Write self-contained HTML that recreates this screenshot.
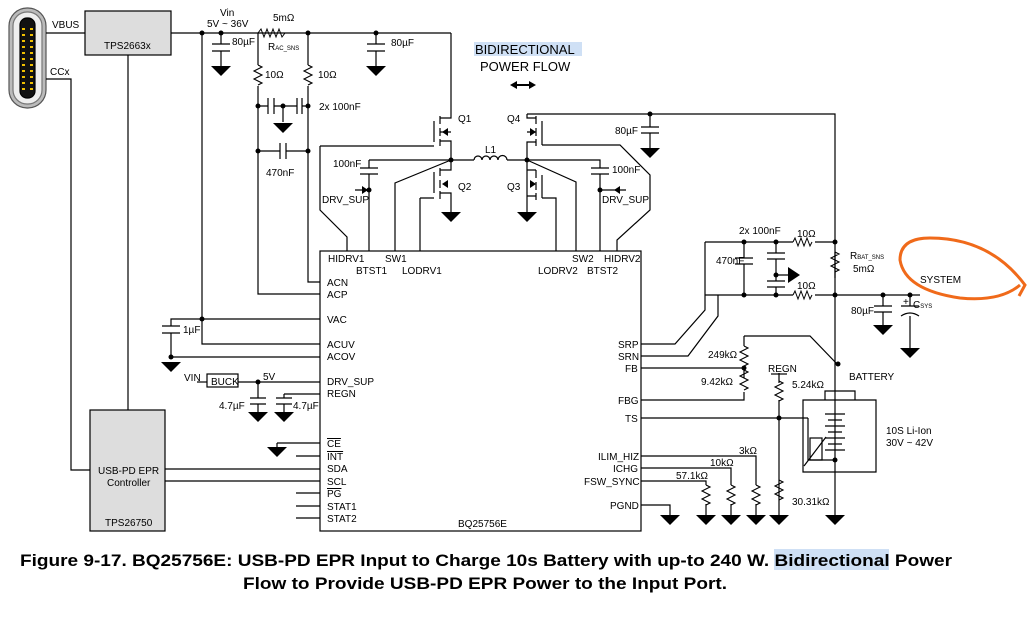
<!DOCTYPE html>
<html><head><meta charset="utf-8"><style>
body{margin:0;background:#fff;}
svg text{font-family:"Liberation Sans",sans-serif;font-size:10px;fill:#000;}
.b{font-weight:bold;font-size:17px;}
</style></head><body>
<svg width="1030" height="619" viewBox="0 0 1030 619" xmlns="http://www.w3.org/2000/svg">
<defs>
<g id="gnd"><path d="M-10,0 L10,0 L0,10 Z" fill="#000"/></g>
<g id="rv"><path d="M0,0 l4,2 l-8,4 l8,4 l-8,4 l8,4 l-4,2" fill="none" stroke="#000"/></g>
</defs>
<g stroke="#000" stroke-width="1.2" fill="none">
<rect x="9" y="8" width="37" height="100" rx="18" fill="#bbb" stroke="#555"/>
<rect x="13" y="12" width="29" height="92" rx="14" fill="#eee" stroke="#777"/>
<rect x="20" y="18" width="15" height="80" rx="7" fill="#111"/>
<path d="M46,33 H85 M171,33 H451 M46,79 H71 V470 H90 M128,55 V410"/>
<rect x="85" y="11" width="86" height="44" fill="#ddd"/>
<rect x="90" y="410" width="75" height="121" fill="#ddd"/>
<path d="M202,33 V344 H320 M202,319 H320 M202,319 H171 V326 M171,333 V357 H320"/>
<path d="M162,326 H180 M162,333 H180"/>
<path d="M221,33 V44 M212,44 H230 M212,51 H230 M221,51 V66"/>
<path d="M258,33 V65 M258,86 V294 H320 M308,33 V65 M308,86 V282 H320"/>
<path d="M258,106 H268 M268,98 V114 M274,98 V114 M274,106 H297 M297,98 V114 M302,98 V114 M302,106 H308 M283,106 V122"/>
<path d="M258,151 H280 M280,143 V159 M286,143 V159 M286,151 H308"/>
<path d="M376,33 V44 M367,44 H385 M367,51 H385 M376,51 V66"/>
<path d="M451,33 V118 H440 M434,121 V142 M440,116 V124 M440,128 V136 M440,139 V146 M440,141 H451 V160 M440,132 H451"/>
<path d="M320,146 H434 M320,146 V210 L347,237 V251"/>
<path d="M369,160 H451 M369,160 V168 M360,168 H378 M360,174 H378 M369,174 V251 M355,190 H369"/>
<path d="M451,160 L395,183 V251 M451,160 V170 H440 M434,172 V193 M440,168 V176 M440,180 V188 M440,191 V199 M440,193 H451 V212 M420,198 H434 M420,198 V251"/>
<path d="M451,160 H474 M507,160 H527"/>
<path d="M474,160 a4,4 0 0 1 8,0 a4,4 0 0 1 8,0 a4,4 0 0 1 8,0 a4,4 0 0 1 9,0"/>
<path d="M527,114 H835 V295 M527,114 V118 H536 M542,121 V145 M536,116 V124 M536,128 V136 M536,139 V146 M536,142 H527 V212 M527,132 H536 M542,145 H620 L650,175 V210 L617,240 V251"/>
<path d="M650,114 V127 M641,127 H659 M641,133 H659 M650,133 V148"/>
<path d="M527,160 H600 V168 M591,168 H609 M591,174 H609 M600,174 V251 M600,190 H626"/>
<path d="M527,160 L576,182 V251 M536,170 V178 M536,182 V190 M536,193 V200 M542,175 V198 M542,198 H556 V251 M527,170 H536 M527,196 H536"/>
<rect x="320" y="251" width="321" height="280" fill="#fff"/>
<path d="M705,242 H793 M815,242 H835 M705,295 H793 M815,295 H920 M883,295 V306 M874,306 H892 M874,312 H892 M883,312 V325 M910,295 V306 M901,306 H919 M901,316 Q910,310 919,316 M910,316 V348"/>
<path d="M705,242 V310 L675,344 H641 M718,295 V316 L688,356 H641 M744,242 V258 M735,258 H753 M735,264 H753 M744,264 V295 M776,242 V253 M767,253 H785 M767,259 H785 M776,259 V275 H788 M776,275 V281 M767,281 H785 M767,287 H785 M776,287 V295"/>
<path d="M835,252 V278"/>
<path d="M744,336 H810 L838,365 M744,336 V346 M744,368 V378 M744,392 V400 H641 M641,368 H744"/>
<path d="M641,418 H808 M779,373 V383 M779,400 V505 M779,418 V420 M641,456 H756 V485 M641,468 H731 V485 M641,481 H706 V485 M706,504 V515 M731,504 V515 M756,504 V515 M779,504 V515 M641,505 H670 V515"/>
<path d="M771,374 H787"/>
<path d="M835,295 V515 M803,400 H876 V472 H803 Z M825,400 V391 H855 V400 M808,418 V460 H835"/>
<rect x="810" y="438" width="12" height="22"/>
<path d="M804,466 L826,437"/>
<path d="M825,414 H845 M828,420 H842 M825,426 H845 M828,432 H842 M825,438 H845 M828,444 H842 M825,450 H845"/>
<path d="M238,382 H320 M258,382 V398 M250,398 H266 M250,404 H266 M258,404 V412 M284,394 H320 M284,394 V398 M276,398 H292 M276,404 H292 M284,404 V412 M277,443 H320 M277,443 V447 M296,456 H320 M165,469 H320 M165,481 H320 M296,493 H320 M296,506 H320 M296,518 H320"/>
<path d="M197,382 H207"/>
</g>
<rect x="207" y="374" width="31" height="13" fill="#fff" stroke="#000" stroke-width="1.2"/>
<g stroke-width="1.1">
<use href="#rv" x="258" y="65"/><use href="#rv" x="308" y="65"/>
<use href="#rv" x="835" y="252"/>
<use href="#rv" x="744" y="346"/><use href="#rv" x="744" y="370"/>
<use href="#rv" x="779" y="381"/><use href="#rv" x="779" y="480"/>
<use href="#rv" x="706" y="485"/><use href="#rv" x="731" y="485"/><use href="#rv" x="756" y="485"/>
</g>
<path d="M258,33 l3,-4 l3,8 l3,-8 l3,8 l3,-8 l3,8 l3,-8 l3,8 l3,-4" stroke="#000" fill="none"/>
<path d="M793,242 l2,-4 l3,8 l3,-8 l3,8 l3,-8 l3,8 l2,-4 M793,295 l2,-4 l3,8 l3,-8 l3,8 l3,-8 l3,8 l2,-4" stroke="#000" fill="none"/>
<g>
<use href="#gnd" x="221" y="66"/><use href="#gnd" x="376" y="66"/><use href="#gnd" x="283" y="123"/>
<use href="#gnd" x="451" y="212"/><use href="#gnd" x="527" y="212"/><use href="#gnd" x="650" y="148"/>
<use href="#gnd" x="171" y="362"/><use href="#gnd" x="258" y="412"/><use href="#gnd" x="284" y="412"/>
<use href="#gnd" x="277" y="447"/><use href="#gnd" x="883" y="325"/><use href="#gnd" x="910" y="348"/>
<use href="#gnd" x="670" y="515"/><use href="#gnd" x="706" y="515"/><use href="#gnd" x="731" y="515"/>
<use href="#gnd" x="756" y="515"/><use href="#gnd" x="779" y="515"/><use href="#gnd" x="835" y="515"/>
</g>
<path d="M788,267 L800,275 L788,283Z M448,128 l-6,4 l6,4Z M448,180 l-6,4 l6,4Z M530,128 l6,4 l-6,4Z M530,180 l6,4 l-6,4Z M362,186 l6,4 l-6,4Z M620,186 l-6,4 l6,4Z M523,84 l-6,0 l0,-3 l-7,4 l7,4 l0,-3 l12,0 l0,3 l7,-4 l-7,-4 l0,3Z"/>
<g>
<circle cx="202" cy="33" r="2.5"/><circle cx="221" cy="33" r="2.5"/><circle cx="308" cy="33" r="2.5"/><circle cx="376" cy="33" r="2.5"/>
<circle cx="258" cy="106" r="2.5"/><circle cx="283" cy="106" r="2.5"/><circle cx="308" cy="106" r="2.5"/><circle cx="258" cy="151" r="2.5"/><circle cx="308" cy="151" r="2.5"/>
<circle cx="202" cy="319" r="2.5"/><circle cx="171" cy="357" r="2.5"/><circle cx="258" cy="382" r="2.5"/>
<circle cx="451" cy="160" r="2.5"/><circle cx="527" cy="160" r="2.5"/><circle cx="369" cy="190" r="2.5"/><circle cx="600" cy="190" r="2.5"/><circle cx="650" cy="114" r="2.5"/>
<circle cx="744" cy="242" r="2.5"/><circle cx="776" cy="242" r="2.5"/><circle cx="835" cy="242" r="2.5"/><circle cx="744" cy="295" r="2.5"/><circle cx="776" cy="295" r="2.5"/><circle cx="776" cy="275" r="2.5"/>
<circle cx="835" cy="295" r="2.5"/><circle cx="883" cy="295" r="2.5"/><circle cx="910" cy="295" r="2.5"/>
<circle cx="744" cy="368" r="2.5"/><circle cx="838" cy="364" r="2.5"/><circle cx="779" cy="418" r="2.5"/><circle cx="835" cy="460" r="2.5"/>
</g>
<g fill="#f0c000">
<rect x="22" y="28" width="3" height="2"/><rect x="30" y="28" width="3" height="2"/><rect x="22" y="34" width="3" height="2"/><rect x="30" y="34" width="3" height="2"/><rect x="22" y="40" width="3" height="2"/><rect x="30" y="40" width="3" height="2"/><rect x="22" y="46" width="3" height="2"/><rect x="30" y="46" width="3" height="2"/><rect x="22" y="52" width="3" height="2"/><rect x="30" y="52" width="3" height="2"/><rect x="22" y="58" width="3" height="2"/><rect x="30" y="58" width="3" height="2"/><rect x="22" y="64" width="3" height="2"/><rect x="30" y="64" width="3" height="2"/><rect x="22" y="70" width="3" height="2"/><rect x="30" y="70" width="3" height="2"/><rect x="22" y="76" width="3" height="2"/><rect x="30" y="76" width="3" height="2"/><rect x="22" y="82" width="3" height="2"/><rect x="30" y="82" width="3" height="2"/><rect x="22" y="88" width="3" height="2"/><rect x="30" y="88" width="3" height="2"/>
</g>
<path d="M1020,285 Q1000,302 960,298 Q905,290 900,260 Q900,238 930,238 Q990,238 1025,285 L1019,296" fill="none" stroke="#f06a1a" stroke-width="3"/>
<text x="52" y="28">VBUS</text><text x="50" y="75">CCx</text>
<text x="104" y="49">TPS2663x</text>
<text x="220" y="16">Vin</text><text x="207" y="27">5V ~ 36V</text>
<text x="273" y="21">5mΩ</text><text x="268" y="50">R<tspan font-size="6">AC_SNS</tspan></text>
<text x="232" y="45">80µF</text><text x="391" y="46">80µF</text>
<text x="265" y="78">10Ω</text><text x="318" y="78">10Ω</text>
<text x="319" y="110">2x 100nF</text><text x="266" y="176">470nF</text>
<rect x="474" y="42" width="108" height="14" fill="#cfe0f5"/>
<text x="475" y="54" style="font-size:13px">BIDIRECTIONAL</text><text x="480" y="71" style="font-size:13px">POWER FLOW</text>
<text x="458" y="122">Q1</text><text x="507" y="122">Q4</text><text x="458" y="190">Q2</text><text x="507" y="190">Q3</text><text x="485" y="153">L1</text>
<text x="333" y="167">100nF</text><text x="612" y="173">100nF</text>
<text x="322" y="203">DRV_SUP</text><text x="602" y="203">DRV_SUP</text>
<text x="615" y="134">80µF</text>
<text x="328" y="262">HIDRV1</text><text x="356" y="274">BTST1</text><text x="385" y="262">SW1</text><text x="402" y="274">LODRV1</text>
<text x="538" y="274">LODRV2</text><text x="572" y="262">SW2</text><text x="587" y="274">BTST2</text><text x="604" y="262">HIDRV2</text>
<text x="327" y="286">ACN</text><text x="327" y="298">ACP</text><text x="327" y="323">VAC</text><text x="327" y="348">ACUV</text><text x="327" y="360">ACOV</text>
<text x="327" y="385">DRV_SUP</text><text x="327" y="397">REGN</text>
<text x="327" y="447" text-decoration="overline">CE</text><text x="327" y="460" text-decoration="overline">INT</text><text x="327" y="472">SDA</text><text x="327" y="485">SCL</text><text x="327" y="497" text-decoration="overline">PG</text><text x="327" y="510">STAT1</text><text x="327" y="522">STAT2</text>
<text x="458" y="527">BQ25756E</text>
<text x="183" y="333">1µF</text><text x="184" y="381">VIN</text><text x="211" y="385">BUCK</text><text x="263" y="380">5V</text>
<text x="219" y="409">4.7µF</text><text x="293" y="409">4.7µF</text>
<text x="98" y="474">USB-PD EPR</text><text x="107" y="486">Controller</text><text x="105" y="526">TPS26750</text>
<text x="618" y="348">SRP</text><text x="618" y="360">SRN</text><text x="625" y="372">FB</text><text x="618" y="404">FBG</text><text x="625" y="422">TS</text>
<text x="598" y="460">ILIM_HIZ</text><text x="613" y="472">ICHG</text><text x="584" y="485">FSW_SYNC</text><text x="610" y="509">PGND</text>
<text x="708" y="358">249kΩ</text><text x="701" y="385">9.42kΩ</text><text x="768" y="372">REGN</text><text x="792" y="388">5.24kΩ</text>
<text x="849" y="380">BATTERY</text><text x="886" y="434">10S Li-Ion</text><text x="886" y="446">30V ~ 42V</text>
<text x="739" y="454">3kΩ</text><text x="710" y="466">10kΩ</text><text x="676" y="479">57.1kΩ</text><text x="792" y="505">30.31kΩ</text>
<text x="739" y="234">2x 100nF</text><text x="797" y="237">10Ω</text><text x="797" y="289">10Ω</text><text x="716" y="264">470nF</text>
<text x="850" y="259">R<tspan font-size="6">BAT_SNS</tspan></text><text x="853" y="272">5mΩ</text>
<text x="920" y="283">SYSTEM</text><text x="851" y="314">80µF</text><text x="903" y="305">+</text><text x="913" y="308">C<tspan font-size="6">SYS</tspan></text>
<rect x="774" y="549" width="115" height="21" fill="#cfe0f5"/>
<text class="b" x="20" y="566" textLength="932" lengthAdjust="spacingAndGlyphs">Figure 9-17. BQ25756E: USB-PD EPR Input to Charge 10s Battery with up-to 240 W. Bidirectional Power</text>
<text class="b" x="243" y="589" textLength="484" lengthAdjust="spacingAndGlyphs">Flow to Provide USB-PD EPR Power to the Input Port.</text>
</svg>
</body></html>
